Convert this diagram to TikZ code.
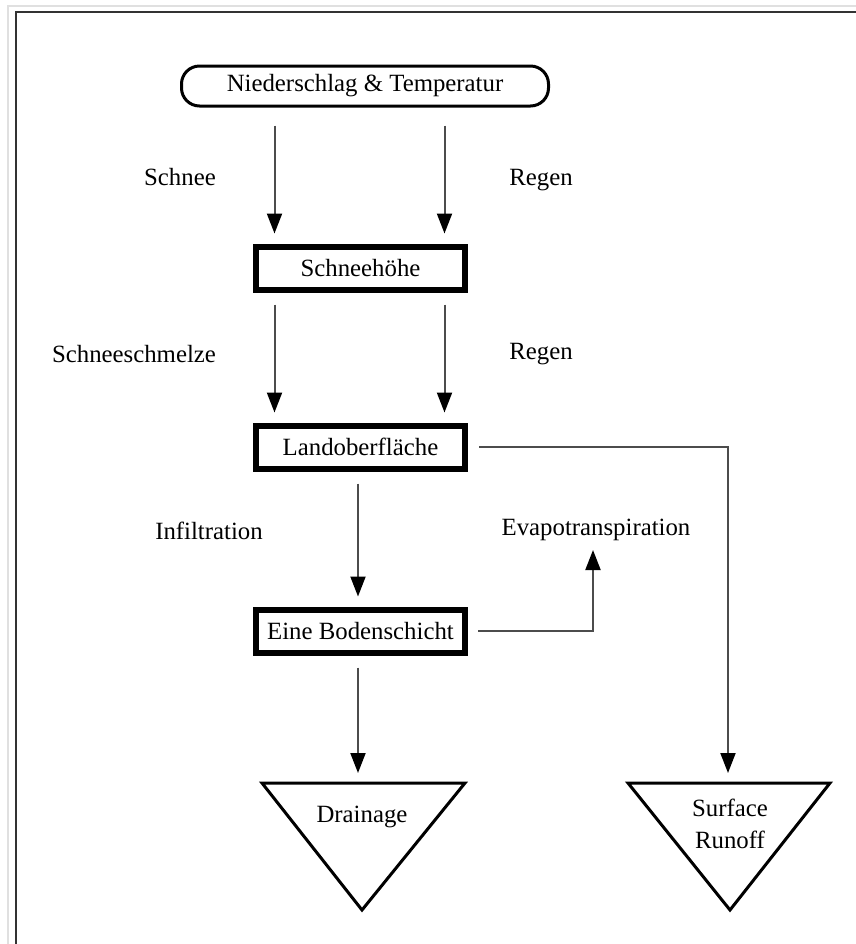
\documentclass[tikz,border=0pt]{standalone}
\usepackage{fontspec}
\setmainfont{Liberation Serif}
\usetikzlibrary{arrows.meta,positioning,calc}

\begin{document}
\begin{tikzpicture}[
  x=0.5pt, y=-0.5pt,
  every node/.style={font=\fontsize{12.4}{16}\selectfont},
  source/.style={rectangle, draw=black, line width=1.5pt, rounded corners=9pt, minimum width=183.5pt, minimum height=20pt},
  store/.style={rectangle, draw=black, line width=3pt, minimum width=104.5pt, minimum height=21.5pt},
  lbl/.style={inner sep=1pt},
  arrow/.style={-{Triangle[length=10pt,width=7.5pt,black]}, draw=black!70, line width=1pt, shorten >=5pt, shorten <=6pt},
  sink/.style={draw=black, line width=1.5pt, line join=miter}
]
  % frame
  \useasboundingbox (0,0) rectangle (856,944);
  \draw[black!12, line width=1pt] (8,6) rectangle (900,990);
  \draw[black!80, line width=1pt] (15.5,12) rectangle (900,990);

  \node[source] (prec) at (365,86) {Niederschlag \& Temperatur};
  \node[store] (snow) at (360.5,268) {Schneehöhe};
  \node[store] (land) at (360.5,447) {Landoberfläche};
  \node[store] (bod) at (360.5,631) {Eine Bodenschicht};

  \node[lbl] (lschnee) at (180,177) {Schnee};
  \node[lbl] (lregen1) at (541,180) {Regen};
  \node[lbl] (lmelt) at (134,354) {Schneeschmelze};
  \node[lbl] (lregen2) at (541,354) {Regen};
  \node[lbl] (linf) at (209,531) {Infiltration};
  \node[lbl] (evap) at (596,530) {Evapotranspiration};

  \coordinate (evapTip) at (593,550);
  \coordinate (drainTop) at (358,783);
  \coordinate (runTop) at (728,783);

  % sinks
  \draw[sink] (262,783) -- (465,783) -- (362,910) -- cycle;
  \draw[sink] (628,783) -- (830,783) -- (730,910) -- cycle;
  \node (drain) at (362,817) {Drainage};
  \node[align=center] (runoff) at (730,824) {Surface\\Runoff};

  % flows
  \draw[arrow, shorten <=9pt] ([xshift=-43pt]prec.south -| snow.north) -- ([xshift=-43pt]snow.north);
  \draw[arrow, shorten <=9pt] ([xshift=42pt]prec.south -| snow.north) -- ([xshift=42pt]snow.north);
  \draw[arrow] ([xshift=-43pt]snow.south) -- ([xshift=-43pt]land.north);
  \draw[arrow] ([xshift=42pt]snow.south) -- ([xshift=42pt]land.north);
  \draw[arrow] (land.south -| drainTop) -- (bod.north -| drainTop);
  \draw[arrow, shorten <=5.5pt] (land.east) -| (runTop);
  \draw[arrow, shorten <=5pt, shorten >=0pt] (bod.east) -| (evapTip);
  \draw[arrow] (bod.south -| drainTop) -- (drainTop);
\end{tikzpicture}
\end{document}
